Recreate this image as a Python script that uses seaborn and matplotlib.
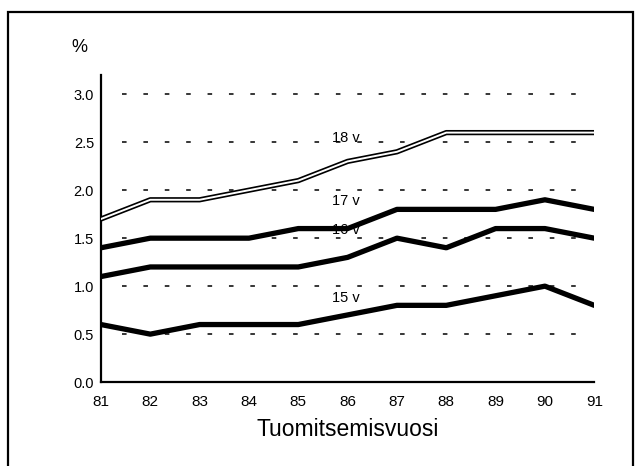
import matplotlib
matplotlib.use('Agg')
import matplotlib.pyplot as plt
import seaborn as sns
import pandas as pd
from matplotlib.patches import Rectangle

years = [81, 82, 83, 84, 85, 86, 87, 88, 89, 90, 91]
v18 = [1.7, 1.9, 1.9, 2.0, 2.1, 2.3, 2.4, 2.6, 2.6, 2.6, 2.6]
v17 = [1.4, 1.5, 1.5, 1.5, 1.6, 1.6, 1.8, 1.8, 1.8, 1.9, 1.8]
v16 = [1.1, 1.2, 1.2, 1.2, 1.2, 1.3, 1.5, 1.4, 1.6, 1.6, 1.5]
v15 = [0.6, 0.5, 0.6, 0.6, 0.6, 0.7, 0.8, 0.8, 0.9, 1.0, 0.8]
y_ticks = [0.0, 0.5, 1.0, 1.5, 2.0, 2.5, 3.0]

sns.set_style('white')
plt.rcParams['font.family'] = ['Liberation Sans', 'DejaVu Sans']
plt.rcParams.update({'text.color': 'black', 'axes.labelcolor': 'black',
                     'xtick.color': 'black', 'ytick.color': 'black'})

fig = plt.figure(figsize=(6.39, 4.66), dpi=100)
ax = fig.add_axes([0.158, 0.180, 0.772, 0.659])

# frame around the whole picture
fig.patches.append(Rectangle((0.0125, -0.02), 0.978, 0.994, transform=fig.transFigure,
                             fill=False, edgecolor='black', linewidth=1.6))

for yv in y_ticks[1:]:
    ax.plot([81.43, 90.74], [yv, yv], color='black', linestyle=(0, (3, 11)),
            linewidth=1.1, zorder=1)

df = pd.DataFrame({'year': years, 'v18': v18, 'v17': v17, 'v16': v16, 'v15': v15})

sns.lineplot(data=df, x='year', y='v18', color='black', linewidth=3.8, ax=ax, zorder=3)
sns.lineplot(data=df, x='year', y='v18', color='white', linewidth=1.4, ax=ax, zorder=4)
for col in ['v17', 'v16', 'v15']:
    sns.lineplot(data=df, x='year', y=col, color='black', linewidth=3.8, ax=ax, zorder=3)

ax.text(85.97, 2.54, '18 v', fontsize=10.5, ha='center', va='center', zorder=5)
ax.text(85.97, 1.89, '17 v', fontsize=10.5, ha='center', va='center', zorder=5)
ax.text(85.97, 1.59, '16 v', fontsize=10.5, ha='center', va='center', zorder=2)
ax.text(85.97, 0.88, '15 v', fontsize=10.5, ha='center', va='center', zorder=5)

ax.set_xlim(81, 91)
ax.set_ylim(0, 3.2)
ax.set_xticks(years)
ax.set_xticklabels([str(y) for y in years], fontsize=11)
ax.set_yticks(y_ticks)
ax.set_yticklabels([f'{t:.1f}' for t in y_ticks], fontsize=10.5)
ax.tick_params(axis='both', direction='out', length=4, width=1.3, color='black', pad=5)
ax.tick_params(axis='y', length=3, pad=2)
ax.set_xlabel('Tuomitsemisvuosi', fontsize=16.5, labelpad=7)
ax.set_ylabel('')

sns.despine(ax=ax, top=True, right=True)
for side in ['left', 'bottom']:
    ax.spines[side].set_linewidth(1.6)
    ax.spines[side].set_color('black')

fig.text(71 / 639, 1 - 48 / 466, '%', fontsize=13, va='center')

fig.savefig('out.png', dpi=100)
